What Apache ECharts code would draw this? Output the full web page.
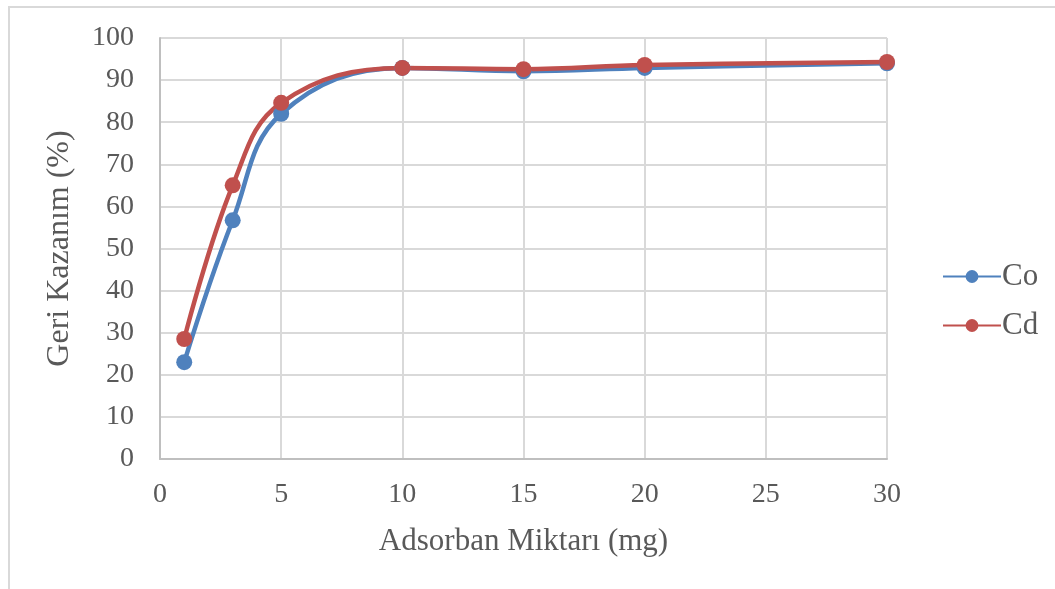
<!DOCTYPE html>
<html>
<head>
<meta charset="utf-8">
<script src="https://cdn.jsdelivr.net/npm/echarts@6/dist/echarts.min.js"></script>
<style>
  html, body { margin: 0; padding: 0; background: #fff; overflow: hidden; }
  #frame { position: absolute; left: 8px; top: 6px; width: 1200px; height: 700px; border-left: 2px solid #d9d9d9; border-top: 2px solid #d9d9d9; }
  #chart { position: absolute; left: 0; top: 0; width: 1055px; height: 589px; }
</style>
</head>
<body>
<div id="frame"></div>
<div id="chart"></div>
<script>
// Adsorbent amount (mg)
const amounts = [1, 3, 5, 10, 15, 20, 30];
// Recovery (%) per metal
const coValues = [23.0, 56.7, 82.0, 92.9, 92.1, 92.9, 94.0];
const cdValues = [28.5, 65.0, 84.6, 92.9, 92.6, 93.6, 94.3];
const seriesNames = ['Co', 'Cd'];
const xTicks = [0, 5, 10, 15, 20, 25, 30];

const font = '"Liberation Serif", "Times New Roman", serif';
const textColor = '#595959';

const chart = echarts.init(document.getElementById('chart'), null, { renderer: 'canvas' });

const pair = (ys) => amounts.map((x, i) => [x, ys[i]]);

chart.setOption({
  backgroundColor: 'transparent',
  animation: false,
  grid: { left: 160, right: 168, top: 38, bottom: 130, containLabel: false },
  legend: {
    orient: 'vertical',
    left: 937,
    top: 256,
    itemWidth: 58,
    itemHeight: 16,
    itemGap: 18,
    textStyle: { fontFamily: font, fontSize: 31, color: textColor, padding: [0, 0, 0, -4] },
    data: seriesNames
  },
  xAxis: {
    type: 'value',
    min: xTicks[0],
    max: xTicks[xTicks.length - 1],
    interval: 5,
    name: 'Adsorban Miktarı (mg)',
    nameLocation: 'middle',
    nameGap: 67,
    nameTextStyle: { fontFamily: font, fontSize: 31, color: textColor },
    axisLine: { show: true, lineStyle: { color: '#bfbfbf', width: 2 } },
    axisTick: { show: false },
    axisLabel: { fontFamily: font, fontSize: 28, color: textColor, margin: 22 },
    splitLine: { show: true, lineStyle: { color: '#d9d9d9', width: 2 } }
  },
  yAxis: {
    type: 'value',
    min: 0,
    max: 100,
    interval: 10,
    name: 'Geri Kazanım (%)',
    nameLocation: 'middle',
    nameGap: 84,
    nameTextStyle: { fontFamily: font, fontSize: 32, color: textColor },
    axisLine: { show: true, lineStyle: { color: '#bfbfbf', width: 2 } },
    axisTick: { show: false },
    axisLabel: { fontFamily: font, fontSize: 28, color: textColor, margin: 26 },
    splitLine: { show: true, lineStyle: { color: '#d9d9d9', width: 2 } }
  },
  series: [
    {
      name: seriesNames[0],
      type: 'line',
      smooth: 0.4,
      data: pair(coValues),
      symbol: 'circle',
      symbolSize: 16,
      itemStyle: { color: '#4f81bd' },
      lineStyle: { color: '#4f81bd', width: 4.5 }
    },
    {
      name: seriesNames[1],
      type: 'line',
      smooth: 0.4,
      data: pair(cdValues),
      symbol: 'circle',
      symbolSize: 16,
      itemStyle: { color: '#c0504d' },
      lineStyle: { color: '#c0504d', width: 4.5 }
    }
  ]
});
</script>
</body>
</html>
